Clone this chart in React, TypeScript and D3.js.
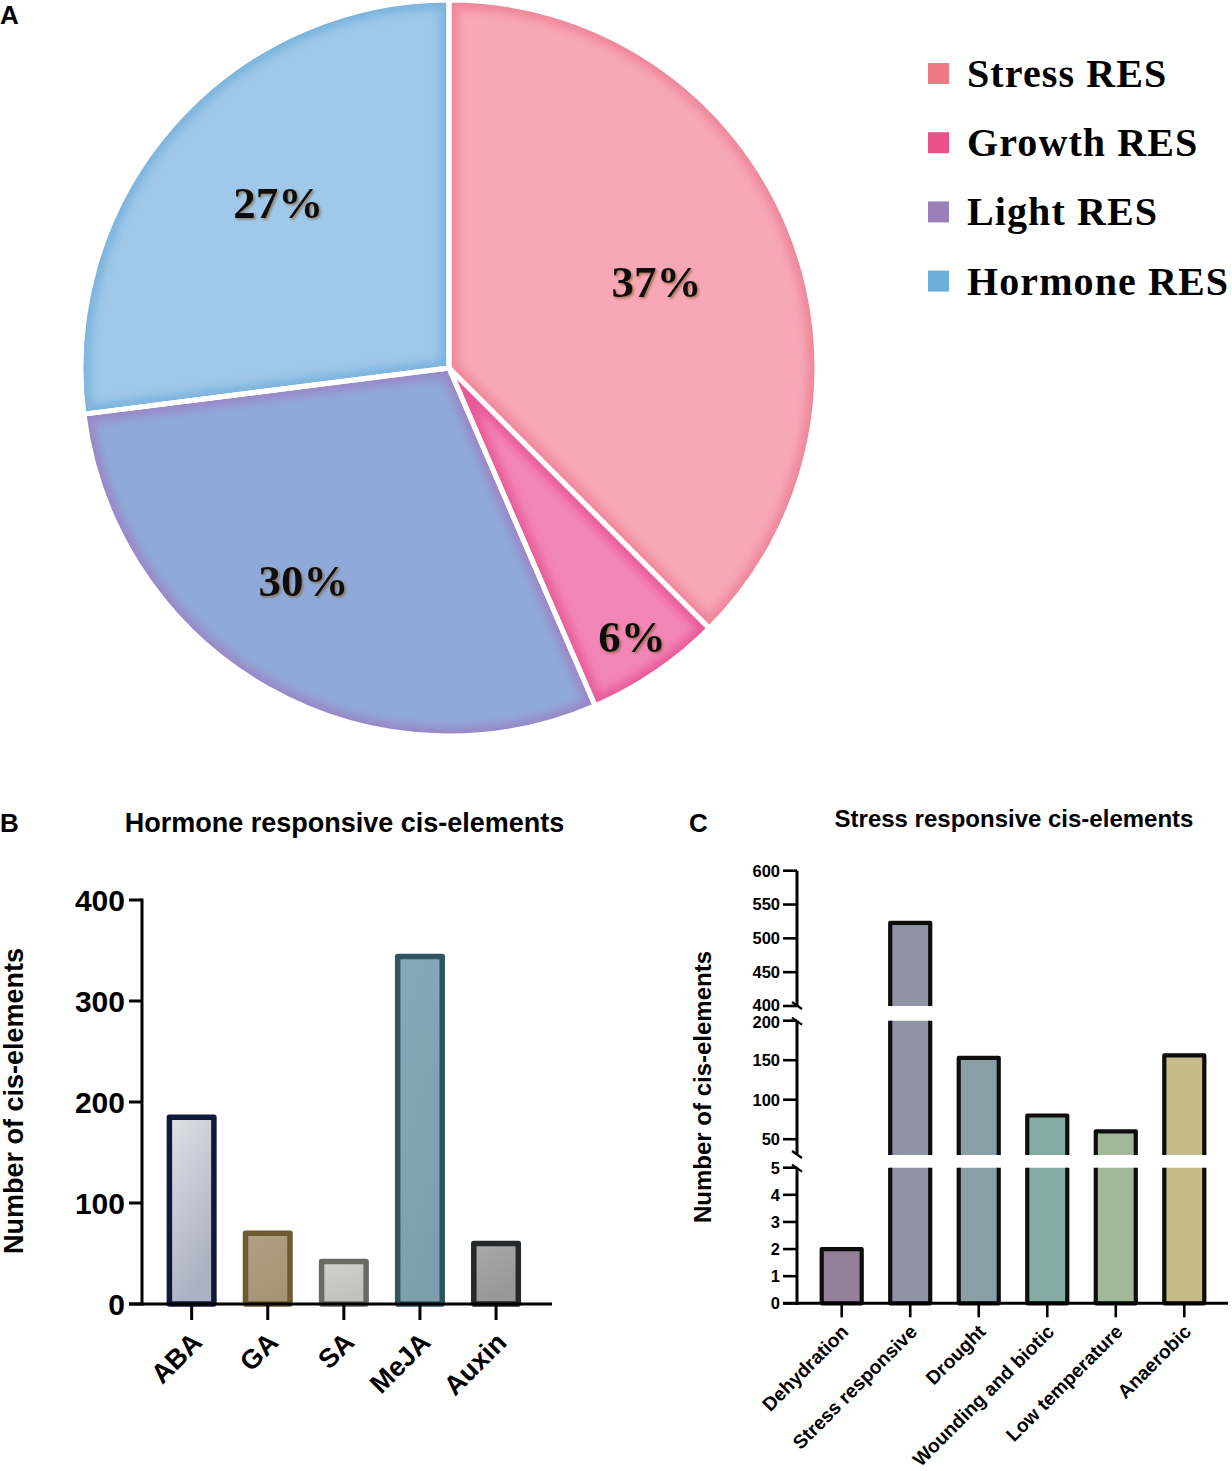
import * as d3 from "d3";

// ---- data ----
const pieCategories = ["Stress RES", "Growth RES", "Light RES", "Hormone RES"];
const pieShares = [37.5, 6, 29.5, 27];
const pieLabels = ["37%", "6%", "30%", "27%"];

const hormoneCategories = ["ABA", "GA", "SA", "MeJA", "Auxin"];
const hormoneCounts = [185, 70, 42, 344, 60];
const hormoneTicks = [0, 100, 200, 300, 400];

const stressCategories = [
  "Dehydration",
  "Stress responsive",
  "Drought",
  "Wounding and biotic",
  "Low temperature",
  "Anaerobic",
];
const stressCounts = [2, 523, 153, 80, 60, 156];
// broken y axis: three segments, bottom to top
const stressSegments = [
  [0, 5],
  [30, 200],
  [400, 600],
];
const stressTicks = [
  [0, 1, 2, 3, 4, 5],
  [50, 100, 150, 200],
  [400, 450, 500, 550, 600],
];

// ---- styles ----
const SANS = "'Liberation Sans', Arial, Helvetica, sans-serif";
const SERIF = "'Liberation Serif', 'Times New Roman', serif";

const pieFill = ["#f7a7b6", "#f286b6", "#8faad8", "#9fc8ea"];
const pieEdge = ["#ef8599", "#e95a97", "#9a86c6", "#7cb3dc"];
const legendFill = ["#f07983", "#ea508b", "#9b7fb8", "#6aafd8"];
const labelRadiusK = [0.61, 0.885, 0.7, 0.645];
const labelAngleShift = [0, 0, 4.7, 2.6];

const hormoneFillTop = ["#e0e1e6", "#b1a084", "#d2d2d0", "#87aabb", "#a9a9a9"];
const hormoneFillBottom = ["#aab1c2", "#a59476", "#c0c0be", "#7d9fad", "#979797"];
const hormoneStroke = ["#0e1a38", "#6e5a30", "#6a6a65", "#2e5560", "#25292b"];

const stressFill = ["#937f98", "#9093a5", "#8a9fa5", "#85aca2", "#a1b899", "#c5bb88"];

const W = 1232;
const H = 1471;

function PiePanel() {
  const cx = 449;
  const cy = 368;
  const r = 368;
  const pie = d3
    .pie<number>()
    .sort(null)
    .value((d) => d)
    .startAngle(0)
    .endAngle(2 * Math.PI);
  const arcs = pie(pieShares);
  const arc = d3.arc<d3.PieArcDatum<number>>().innerRadius(0).outerRadius(r);

  return (
    <g>
      <g transform={`translate(${cx},${cy})`}>
        {arcs.map((a, i) => (
          <clipPath id={`slice-${i}`} key={`c${i}`}>
            <path d={arc(a) ?? undefined} />
          </clipPath>
        ))}
        {arcs.map((a, i) => (
          <g key={`s${i}`}>
            <path d={arc(a) ?? undefined} fill={pieFill[i]} />
            <g clipPath={`url(#slice-${i})`}>
              <path
                d={arc(a) ?? undefined}
                fill="none"
                stroke={pieEdge[i]}
                strokeWidth={18}
                filter="url(#edgeBlur)"
              />
            </g>
          </g>
        ))}
        {arcs.map((a, i) => (
          <path
            key={`w${i}`}
            d={arc(a) ?? undefined}
            fill="none"
            stroke="#fff"
            strokeWidth={5}
            strokeLinejoin="round"
          />
        ))}
        {arcs.map((a, i) => {
          const mid = (a.startAngle + a.endAngle) / 2 + (labelAngleShift[i] * Math.PI) / 180;
          const rr = r * labelRadiusK[i];
          return (
            <text
              key={`t${i}`}
              x={rr * Math.sin(mid)}
              y={-rr * Math.cos(mid)}
              textAnchor="middle"
              dominantBaseline="central"
              fontFamily={SERIF}
              fontWeight="bold"
              fontSize={45}
              fill="#111"
              filter="url(#txtShadow)"
            >
              {pieLabels[i]}
            </text>
          );
        })}
      </g>
      {pieCategories.map((c, i) => {
        const y = 63 + i * 69.2;
        return (
          <g key={c}>
            <rect x={928} y={y} width={21} height={21} fill={legendFill[i]} />
            <text
              x={967}
              y={y + 24}
              fontFamily={SERIF}
              fontWeight="bold"
              fontSize={40}
              letterSpacing={1.1}
              fill="#000"
            >
              {c}
            </text>
          </g>
        );
      })}
    </g>
  );
}

function HormonePanel() {
  const x = d3
    .scaleBand<string>()
    .domain(hormoneCategories)
    .range([153.6, 534.1])
    .paddingInner(0.415)
    .paddingOuter(0.2075);
  const y = d3.scaleLinear().domain([0, 400]).range([1304, 900]);
  const axisX = 142;
  const axisEnd = 552;

  return (
    <g>
      <text x={344.5} y={832} textAnchor="middle" fontFamily={SANS} fontWeight="bold" fontSize={27}>
        Hormone responsive cis-elements
      </text>
      <text
        transform={`translate(23,1101) rotate(-90)`}
        textAnchor="middle"
        fontFamily={SANS}
        fontWeight="bold"
        fontSize={27}
      >
        Number of cis-elements
      </text>
      {hormoneCategories.map((c, i) => (
        <rect
          key={c}
          x={x(c)}
          y={y(hormoneCounts[i])}
          width={x.bandwidth()}
          height={y(0) - y(hormoneCounts[i])}
          fill={`url(#hg${i})`}
          stroke={hormoneStroke[i]}
          strokeWidth={5.5}
          strokeLinejoin="round"
        />
      ))}
      {/* y axis */}
      <line x1={axisX} x2={axisX} y1={y(400) - 1.5} y2={y(0) + 1.5} stroke="#000" strokeWidth={3} />
      {hormoneTicks.map((t) => (
        <g key={t}>
          <line x1={axisX - 13} x2={axisX} y1={y(t)} y2={y(t)} stroke="#000" strokeWidth={3} />
          <text
            x={125}
            y={y(t)}
            dy="0.36em"
            textAnchor="end"
            fontFamily={SANS}
            fontWeight="bold"
            fontSize={30}
          >
            {t}
          </text>
        </g>
      ))}
      {/* x axis */}
      <line x1={axisX - 13} x2={axisEnd} y1={y(0)} y2={y(0)} stroke="#000" strokeWidth={3} />
      {hormoneCategories.map((c) => {
        const cxp = (x(c) ?? 0) + x.bandwidth() / 2;
        return (
          <g key={c}>
            <line x1={cxp} x2={cxp} y1={y(0)} y2={y(0) + 16} stroke="#000" strokeWidth={3} />
            <text
              transform={`translate(${cxp + 12},1344) rotate(-45)`}
              textAnchor="end"
              fontFamily={SANS}
              fontWeight="bold"
              fontSize={27}
            >
              {c}
            </text>
          </g>
        );
      })}
    </g>
  );
}

function StressPanel() {
  const x = d3
    .scaleBand<string>()
    .domain(stressCategories)
    .range([807.45, 1218.55])
    .paddingInner(0.416)
    .paddingOuter(0.208);
  const segRanges = [
    [1303.3, 1167.7],
    [1155, 1020.7],
    [1006, 870.7],
  ];
  const scales = stressSegments.map((s, k) => d3.scaleLinear().domain(s).range(segRanges[k]));
  const axisX = 797;
  const axisEnd = 1228;
  const base = 1303.3;

  return (
    <g>
      <text x={1014} y={827} textAnchor="middle" fontFamily={SANS} fontWeight="bold" fontSize={24}>
        Stress responsive cis-elements
      </text>
      <text
        transform={`translate(711,1087) rotate(-90)`}
        textAnchor="middle"
        fontFamily={SANS}
        fontWeight="bold"
        fontSize={24}
      >
        Number of cis-elements
      </text>
      {scales.map((sc, k) => {
        const [lo, hi] = stressSegments[k];
        const top = sc(hi);
        const bottom = sc(lo);
        return (
          <g key={k}>
            <clipPath id={`seg-${k}`}>
              <rect x={axisX} y={top} width={axisEnd - axisX} height={bottom - top + (k === 0 ? 3 : 0)} />
            </clipPath>
            <g clipPath={`url(#seg-${k})`}>
              {stressCategories.map((c, i) => {
                const v = stressCounts[i];
                if (v <= lo) return null;
                const yt = v >= hi ? top - 20 : sc(v);
                const yb = k === 0 ? base : bottom + 20;
                return (
                  <rect
                    key={c}
                    x={x(c)}
                    y={yt}
                    width={x.bandwidth()}
                    height={yb - yt}
                    fill={stressFill[i]}
                    stroke="#0d0d0d"
                    strokeWidth={4.2}
                    strokeLinejoin="round"
                  />
                );
              })}
            </g>
            {/* axis segment */}
            <line
              x1={axisX}
              x2={axisX}
              y1={top}
              y2={k === 0 ? bottom + 1.5 : bottom}
              stroke="#000"
              strokeWidth={3}
            />
            {k > 0 && (
              <line x1={axisX - 5} x2={axisX + 5} y1={bottom - 4} y2={bottom + 3} stroke="#000" strokeWidth={2.2} />
            )}
            {k < scales.length - 1 && (
              <line x1={axisX - 5} x2={axisX + 5} y1={top - 3} y2={top + 4} stroke="#000" strokeWidth={2.2} />
            )}
            {stressTicks[k].map((t) => (
              <g key={t}>
                <line x1={axisX - 14} x2={axisX} y1={sc(t)} y2={sc(t)} stroke="#000" strokeWidth={2.6} />
                <text
                  x={780}
                  y={sc(t)}
                  dy={t === 400 ? "0.3em" : t === 200 ? "0.42em" : "0.36em"}
                  textAnchor="end"
                  fontFamily={SANS}
                  fontWeight="bold"
                  fontSize={16.5}
                >
                  {t}
                </text>
              </g>
            ))}
          </g>
        );
      })}
      {/* x axis */}
      <line x1={axisX - 14} x2={axisEnd} y1={base} y2={base} stroke="#000" strokeWidth={3} />
      {stressCategories.map((c) => {
        const cxp = (x(c) ?? 0) + x.bandwidth() / 2;
        return (
          <g key={c}>
            <line x1={cxp} x2={cxp} y1={base} y2={base + 14} stroke="#000" strokeWidth={2.6} />
            <text
              transform={`translate(${cxp + 8},1333) rotate(-45)`}
              textAnchor="end"
              fontFamily={SANS}
              fontWeight="bold"
              fontSize={19.3}
            >
              {c}
            </text>
          </g>
        );
      })}
    </g>
  );
}

export default function App() {
  return (
    <svg
      width={W}
      height={H}
      viewBox={`0 0 ${W} ${H}`}
      style={{ position: "absolute", left: 0, top: 0, background: "#fff" }}
    >
      <defs>
        <filter id="edgeBlur" x="-10%" y="-10%" width="120%" height="120%">
          <feGaussianBlur stdDeviation={5} />
        </filter>
        <filter id="txtShadow" x="-20%" y="-30%" width="140%" height="160%">
          <feDropShadow dx={1.6} dy={1.6} stdDeviation={1.2} floodColor="#7a5a2a" floodOpacity={0.65} />
        </filter>
        {hormoneCategories.map((c, i) => (
          <linearGradient key={c} id={`hg${i}`} x1="0" y1="0" x2="0.4" y2="1">
            <stop offset="0%" stopColor={hormoneFillTop[i]} />
            <stop offset="100%" stopColor={hormoneFillBottom[i]} />
          </linearGradient>
        ))}
      </defs>
      <rect width={W} height={H} fill="#fff" />
      <text x={0} y={24} fontFamily={SANS} fontWeight="bold" fontSize={26}>A</text>
      <text x={0} y={832} fontFamily={SANS} fontWeight="bold" fontSize={26}>B</text>
      <text x={689} y={832} fontFamily={SANS} fontWeight="bold" fontSize={26}>C</text>
      <PiePanel />
      <HormonePanel />
      <StressPanel />
    </svg>
  );
}
